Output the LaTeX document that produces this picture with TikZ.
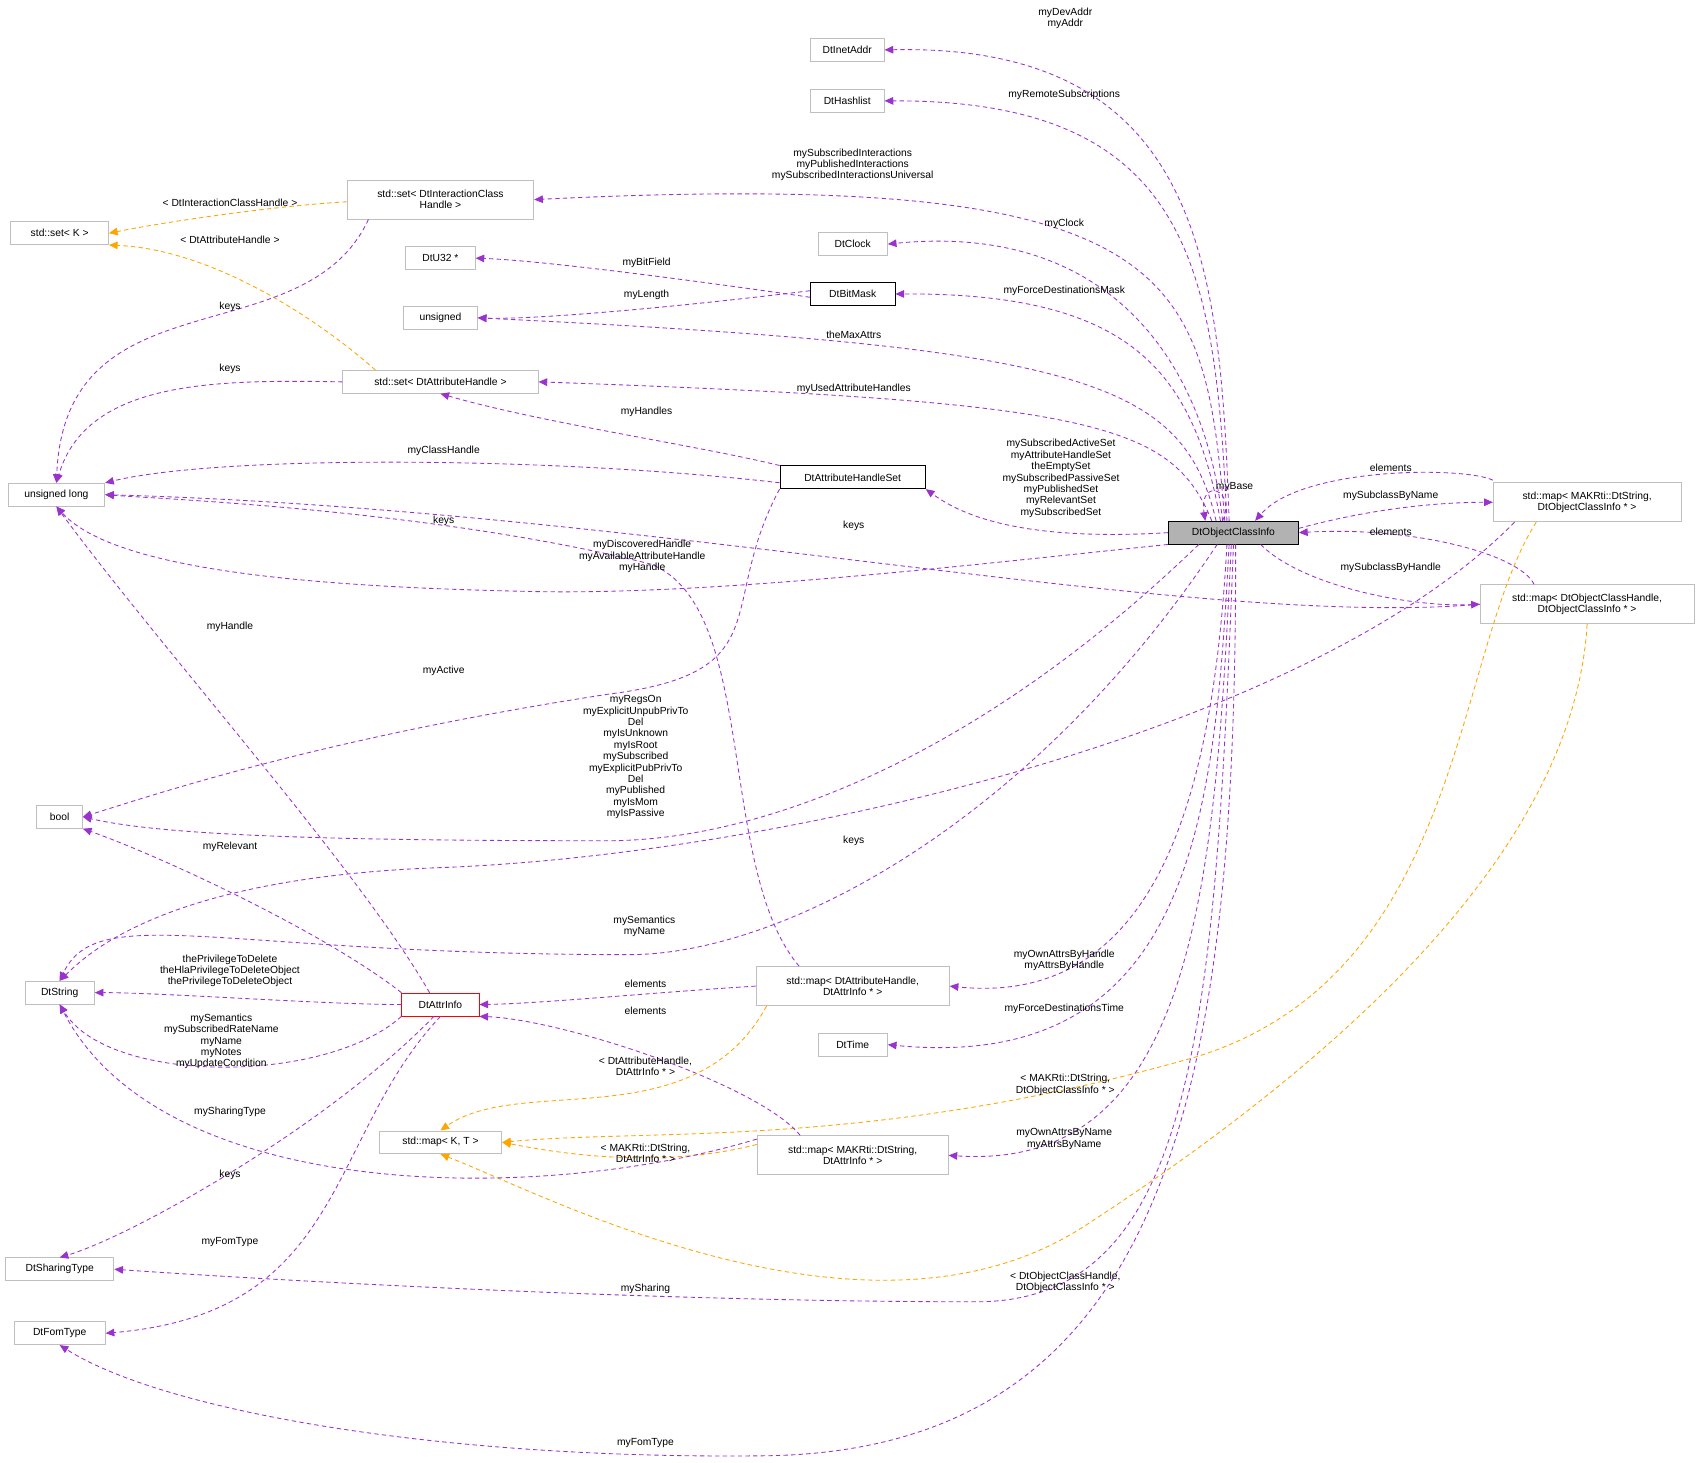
\documentclass[tikz,border=0pt]{standalone}
\usepackage{fontspec}
\setmainfont{Liberation Sans}
\usetikzlibrary{arrows.meta}
\definecolor{pu}{HTML}{9A32CD}
\definecolor{or}{HTML}{FFA500}
\definecolor{gb}{HTML}{BFBFBF}
\begin{document}
\begin{tikzpicture}[x=1pt,y=-1pt,
 font=\fontsize{9.5}{10.5}\selectfont,
 n/.style={draw=gb,fill=white,inner sep=2pt,minimum height=21pt,align=center,line width=0.8pt},
 nb/.style={n,draw=black},
 e/.style={draw=pu,line width=0.8pt,dash pattern=on 4pt off 3pt,-{Triangle[length=8pt,width=7pt,fill=pu,sep=0pt]}},
 o/.style={draw=or,line width=0.8pt,dash pattern=on 4pt off 3pt,-{Triangle[length=8pt,width=7pt,fill=or]}},
 l/.style={align=center,inner sep=0pt,font=\fontsize{9.5}{10.5}\selectfont}]
\useasboundingbox (0,0) rectangle (1568,1348);
% nodes
\node[nb,fill=gray!60,minimum width=120pt] (OCI) at (1137,491) {DtObjectClassInfo};
\node[n,minimum width=68pt] (Inet) at (781,46) {DtInetAddr};
\node[n,minimum width=68pt] (Hash) at (781,93) {DtHashlist};
\node[n,minimum width=172pt,minimum height=36pt] (SIC) at (406,184) {std::set\textless{} DtInteractionClass\\Handle \textgreater{}};
\node[n,minimum width=90pt] (SK) at (55,215) {std::set\textless{} K \textgreater{}};
\node[n,minimum width=64pt] (Clock) at (786,225) {DtClock};
\node[n,minimum width=64pt] (U32) at (406,238) {DtU32 *};
\node[nb,minimum width=78pt] (BM) at (786,271) {DtBitMask};
\node[n,minimum width=68pt] (Uns) at (406,293) {unsigned};
\node[n,minimum width=180pt] (SAH) at (406,352) {std::set\textless{} DtAttributeHandle \textgreater{}};
\node[nb,minimum width=134pt] (AHS) at (786,440) {DtAttributeHandleSet};
\node[n,minimum width=89pt] (UL) at (52,456) {unsigned long};
\node[n,minimum width=173pt,minimum height=36pt] (MSO) at (1463,463) {std::map\textless{} MAKRti::DtString,\\DtObjectClassInfo * \textgreater{}};
\node[n,minimum width=197pt,minimum height=36pt] (MHO) at (1463,557) {std::map\textless{} DtObjectClassHandle,\\DtObjectClassInfo * \textgreater{}};
\node[n,minimum width=42pt] (Bool) at (55,753) {bool};
\node[n,minimum width=64pt] (Str) at (55,915) {DtString};
\node[n,draw=red,minimum width=71pt] (AI) at (406,926) {DtAttrInfo};
\node[n,minimum width=178pt,minimum height=36pt] (MHA) at (786,909) {std::map\textless{} DtAttributeHandle,\\DtAttrInfo * \textgreater{}};
\node[n,minimum width=64pt] (Time) at (786,963) {DtTime};
\node[n,minimum width=113pt] (MKT) at (406,1053) {std::map\textless{} K, T \textgreater{}};
\node[n,minimum width=176pt,minimum height=36pt] (MSA) at (786,1065) {std::map\textless{} MAKRti::DtString,\\DtAttrInfo * \textgreater{}};
\node[n,minimum width=100pt] (Shr) at (55,1170) {DtSharingType};
\node[n,minimum width=84pt] (Fom) at (55,1229) {DtFomType};
% edges from OCI
\draw[e] ([xshift=-4pt]OCI.north) .. controls (1125,250) and (1110,40) .. (Inet.east);
\draw[e] ([xshift=-6pt]OCI.north) .. controls (1120,250) and (1100,92) .. (Hash.east);
\draw[e] ([xshift=-8pt]OCI.north) .. controls (1110,250) and (1090,155) .. (SIC.east);
\draw[e] ([xshift=-10pt]OCI.north) .. controls (1110,330) and (1020,205) .. (Clock.east);
\draw[e] ([xshift=-12pt]OCI.north) .. controls (1100,340) and (1040,270) .. (BM.east);
\draw[e] ([xshift=-16pt]OCI.north) .. controls (1090,350) and (1000,320) .. (Uns.east);
\draw[e] ([xshift=-20pt]OCI.north) .. controls (1080,390) and (1010,370) .. (SAH.east);
\draw[e] ([xshift=-10pt]OCI.north) .. controls (1140,450) and (1105,440) .. ([xshift=-26pt]OCI.north);
\draw[e] (OCI.west) .. controls (930,500) and (880,470) .. (AHS.south east);
\draw[e] (OCI.south west) .. controls (900,520) and (650,550) .. (480,545) .. controls (250,540) and (100,520) .. (UL.south);
\draw[e] ([xshift=-32pt]OCI.south) .. controls (900,700) and (700,775) .. (560,775) .. controls (300,775) and (150,770) .. (Bool.east);
\draw[e] ([xshift=-15pt]OCI.south) .. controls (950,760) and (720,880) .. (580,880) .. controls (200,880) and (90,830) .. (Str.north);
\draw[e] ([xshift=-6pt]OCI.south) .. controls (1120,700) and (1080,930) .. (MHA.east);
\draw[e] ([xshift=-4pt]OCI.south) .. controls (1120,750) and (1100,990) .. (Time.east);
\draw[e] ([xshift=-2pt]OCI.south) .. controls (1120,820) and (1100,1080) .. (MSA.east);
\draw[e] (OCI.south) .. controls (1120,950) and (1100,1200) .. (900,1200) .. controls (600,1200) and (250,1180) .. (Shr.east);
\draw[e] ([xshift=2pt]OCI.south) .. controls (1140,1000) and (1080,1340) .. (700,1342) .. controls (400,1345) and (150,1300) .. (Fom.south);
% self / maps
\draw[e] ([yshift=2pt]MSO.north west) .. controls (1350,430) and (1200,430) .. ([xshift=20pt]OCI.north);
\draw[e] ([yshift=4pt]OCI.east) .. controls (1260,470) and (1320,463) .. (MSO.west);
\draw[e] ([xshift=50pt]MHO.north west) .. controls (1400,510) and (1300,485) .. (OCI.east);
\draw[e] ([xshift=25pt]OCI.south) .. controls (1200,540) and (1300,560) .. (MHO.west);
\draw[e] (MHO.west) .. controls (1100,580) and (600,470) .. (UL.east);
\draw[e] ([xshift=20pt]MSO.south west) .. controls (1200,680) and (700,790) .. (400,800) .. controls (150,810) and (80,880) .. (Str.north);
\draw[o] ([xshift=40pt]MSO.south west) .. controls (1340,600) and (1350,900) .. (1100,975) .. controls (800,1060) and (600,1040) .. (MKT.east);
\draw[o] (MHO.south) .. controls (1450,800) and (1200,1000) .. (1000,1130) .. controls (800,1260) and (500,1100) .. (MKT.south);
% left side
\draw[o] ([yshift=-2pt]SIC.west) .. controls (250,190) and (150,205) .. (SK.east);
\draw[o] ([xshift=-60pt]SAH.north) .. controls (300,300) and (200,230) .. (SK.south east);
\draw[e] ([xshift=20pt]SIC.south west) .. controls (280,330) and (60,250) .. (UL.north);
\draw[e] (SAH.west) .. controls (200,350) and (80,350) .. (UL.north);
\draw[e] ([yshift=-3pt]BM.west) .. controls (650,260) and (500,240) .. (U32.east);
\draw[e] ([yshift=3pt]BM.west) .. controls (650,280) and (500,295) .. (Uns.east);
\draw[e] (AHS.north west) .. controls (640,410) and (500,390) .. (SAH.south);
\draw[e] ([yshift=-5pt]AHS.west) .. controls (500,420) and (200,420) .. (UL.north east);
\draw[e] (AHS.south west) .. controls (660,560) and (720,620) .. (560,640) .. controls (300,680) and (150,730) .. (Bool.east);
\draw[e] ([xshift=40pt]MHA.north west) .. controls (660,800) and (700,560) .. (600,520) .. controls (400,470) and (150,460) .. (UL.east);
\draw[e] ([xshift=-10pt]AI.north) .. controls (330,800) and (150,600) .. (UL.south);
\draw[e] (AI.north west) .. controls (300,860) and (150,790) .. (Bool.south east);
\draw[e] (AI.west) .. controls (300,926) and (150,915) .. (Str.east);
\draw[e] (AI.south west) .. controls (300,1000) and (100,1000) .. (Str.south);
\draw[e] ([xshift=-6pt]AI.south) .. controls (300,1040) and (120,1140) .. (Shr.north);
\draw[e] (AI.south) .. controls (300,1050) and (320,1210) .. (Fom.east);
\draw[e] (MHA.west) .. controls (600,915) and (500,925) .. (AI.east);
\draw[e] ([xshift=40pt]MSA.north west) .. controls (700,1000) and (520,940) .. (AI.south east);
\draw[o] ([xshift=10pt]MHA.south west) .. controls (640,1050) and (480,990) .. (MKT.north);
\draw[o] ([yshift=10pt]MSA.west) .. controls (600,1080) and (500,1060) .. (MKT.east);
\draw[e] ([yshift=15pt]MSA.west) .. controls (500,1110) and (150,1110) .. (Str.south);
% labels
\node[l] at (982,17) {myDevAddr\\myAddr};
\node[l] at (981,87) {myRemoteSubscriptions};
\node[l] at (786,152) {mySubscribedInteractions\\myPublishedInteractions\\mySubscribedInteractionsUniversal};
\node[l] at (981,206) {myClock};
\node[l] at (981,268) {myForceDestinationsMask};
\node[l] at (787,309) {theMaxAttrs};
\node[l] at (787,358) {myUsedAttributeHandles};
\node[l] at (978,441) {mySubscribedActiveSet\\myAttributeHandleSet\\theEmptySet\\mySubscribedPassiveSet\\myPublishedSet\\myRelevantSet\\mySubscribedSet};
\node[l] at (592,513) {myDiscoveredHandle\\myAvailableAttributeHandle\\myHandle};
\node[l] at (586,698) {myRegsOn\\myExplicitUnpubPrivTo\\Del\\myIsUnknown\\myIsRoot\\mySubscribed\\myExplicitPubPrivTo\\Del\\myPublished\\myIsMom\\myIsPassive};
\node[l] at (594,854) {mySemantics\\myName};
\node[l] at (981,885) {myOwnAttrsByHandle\\myAttrsByHandle};
\node[l] at (981,930) {myForceDestinationsTime};
\node[l] at (981,1050) {myOwnAttrsByName\\myAttrsByName};
\node[l] at (595,1188) {mySharing};
\node[l] at (595,1330) {myFomType};
\node[l] at (1138,449) {myBase};
\node[l] at (1282,431) {elements};
\node[l] at (1282,457) {mySubclassByName};
\node[l] at (1282,490) {elements};
\node[l] at (1282,523) {mySubclassByHandle};
\node[l] at (787,485) {keys};
\node[l] at (787,775) {keys};
\node[l] at (982,1000) {\textless{} MAKRti::DtString,\\DtObjectClassInfo * \textgreater{}};
\node[l] at (982,1182) {\textless{} DtObjectClassHandle,\\DtObjectClassInfo * \textgreater{}};
\node[l] at (212,187) {\textless{} DtInteractionClassHandle \textgreater{}};
\node[l] at (212,221) {\textless{} DtAttributeHandle \textgreater{}};
\node[l] at (212,283) {keys};
\node[l] at (212,340) {keys};
\node[l] at (596,242) {myBitField};
\node[l] at (596,272) {myLength};
\node[l] at (596,380) {myHandles};
\node[l] at (409,416) {myClassHandle};
\node[l] at (409,618) {myActive};
\node[l] at (409,480) {keys};
\node[l] at (212,578) {myHandle};
\node[l] at (212,781) {myRelevant};
\node[l] at (212,895) {thePrivilegeToDelete\\theHlaPrivilegeToDeleteObject\\thePrivilegeToDeleteObject};
\node[l] at (204,960) {mySemantics\\mySubscribedRateName\\myName\\myNotes\\myUpdateCondition};
\node[l] at (212,1025) {mySharingType};
\node[l] at (212,1145) {myFomType};
\node[l] at (595,907) {elements};
\node[l] at (595,932) {elements};
\node[l] at (595,983) {\textless{} DtAttributeHandle,\\DtAttrInfo * \textgreater{}};
\node[l] at (595,1063) {\textless{} MAKRti::DtString,\\DtAttrInfo * \textgreater{}};
\node[l] at (212,1083) {keys};
\end{tikzpicture}
\end{document}
